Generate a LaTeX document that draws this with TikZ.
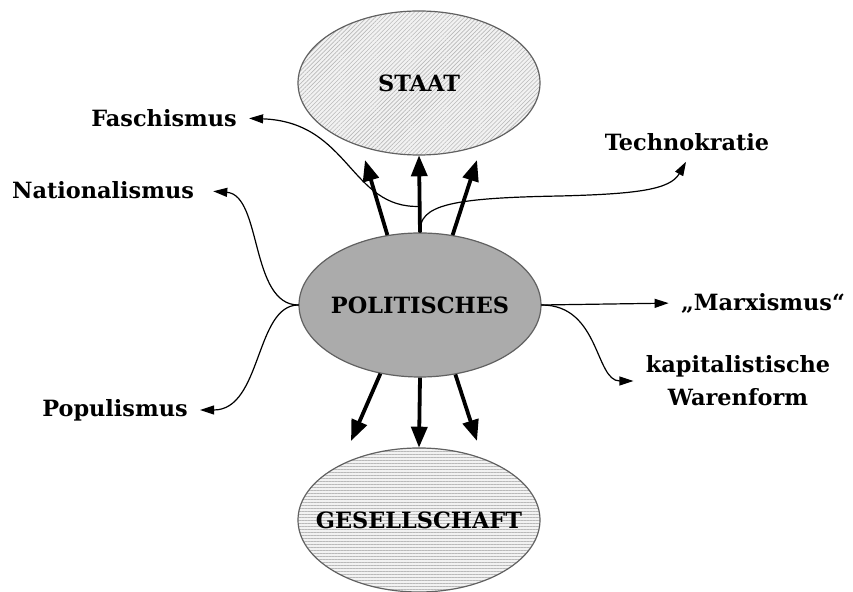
\documentclass[tikz,border=0pt]{standalone}
\usepackage{fontspec}
\setmainfont{DejaVu Serif}
\usetikzlibrary{arrows.meta}
\usetikzlibrary{shapes.geometric}
\usetikzlibrary{patterns.meta}

\definecolor{rand}{gray}{0.38}
\definecolor{kern}{gray}{0.67}
\definecolor{hell}{gray}{0.95}

\begin{document}
\begin{tikzpicture}[x=0.5pt,y=-0.5pt,line cap=round,line join=round,>={Triangle[length=7pt,width=4.5pt]},
    blase/.style={ellipse,draw=rand,line width=0.6pt,minimum width=121pt,minimum height=72pt,inner sep=0pt,font=\bfseries\fontsize{11.2}{15}\selectfont},
    schraeg/.style={preaction={fill=hell},pattern={Lines[angle=45,distance=1.5pt,line width=0.3pt]},pattern color=gray!55},
    waagrecht/.style={preaction={fill=hell},pattern={Lines[angle=0,distance=1.5pt,line width=0.3pt]},pattern color=gray!55},
    begriff/.style={font=\bfseries\fontsize{11.2}{16.5}\selectfont,align=center,inner sep=1pt},
    dick/.style={->,>={Triangle[length=10.5pt,width=8pt]},line width=1.9pt,line cap=butt},
    duenn/.style={->,line width=0.6pt,shorten >=5pt}]
        \useasboundingbox (0,0) rectangle (853,592);
        %
        \node[blase,schraeg] (staat) at (419,83) {\makebox[0pt]{STAAT}};
        \node[blase,fill=kern] (polit) at (420,305) {\makebox[0pt]{POLITISCHES}};
        \node[blase,waagrecht] (ges) at (419,520) {\makebox[0pt]{GESELLSCHAFT}};
        %
        \node[begriff] (fasch) at (164,118) {Faschismus};
        \node[begriff] (nat) at (103,190) {Nationalismus};
        \node[begriff] (pop) at (115,410) {Populismus};
        \node[begriff] (tech) at (687,142) {Technokratie};
        \node[begriff] (marx) at (763,303) {„Marxismus“};
        \node[begriff] (kap) at (738,381) {kapitalistische\\Warenform};
        %
        % Spitzen der seitlichen Pfeile
        \coordinate (ol) at (365,160);
        \coordinate (or) at (477,160);
        \coordinate (ul) at (351,441);
        \coordinate (ur) at (477,441);
        %
        \draw[duenn] (polit.north) -- ++(0,-26) .. controls (350,209) and (350,122) .. (fasch.east);
        \draw[duenn] (polit.north) .. controls (419,205) and (450,198) .. (560,196) .. controls (635,194) and (670,190) .. ([xshift=2pt]tech.south);
        \draw[duenn,shorten >=8.5pt] (polit.west) .. controls (250,305) and (262,195) .. (nat.east);
        \draw[duenn] (polit.west) .. controls (255,305) and (262,410) .. (pop.east);
        \draw[duenn] (polit.east) -- (marx.west);
        \draw[duenn] (polit.east) .. controls (600,305) and (595,381) .. (kap.west);
        %
        \draw[dick] (polit.115) -- (ol);
        \draw[dick] (polit.north) -- (staat.south);
        \draw[dick] (polit.65) -- (or);
        %
        \draw[dick] (polit.240) -- (ul);
        \draw[dick] (polit.south) -- (ges.north);
        \draw[dick] (polit.297) -- (ur);
\end{tikzpicture}
\end{document}
